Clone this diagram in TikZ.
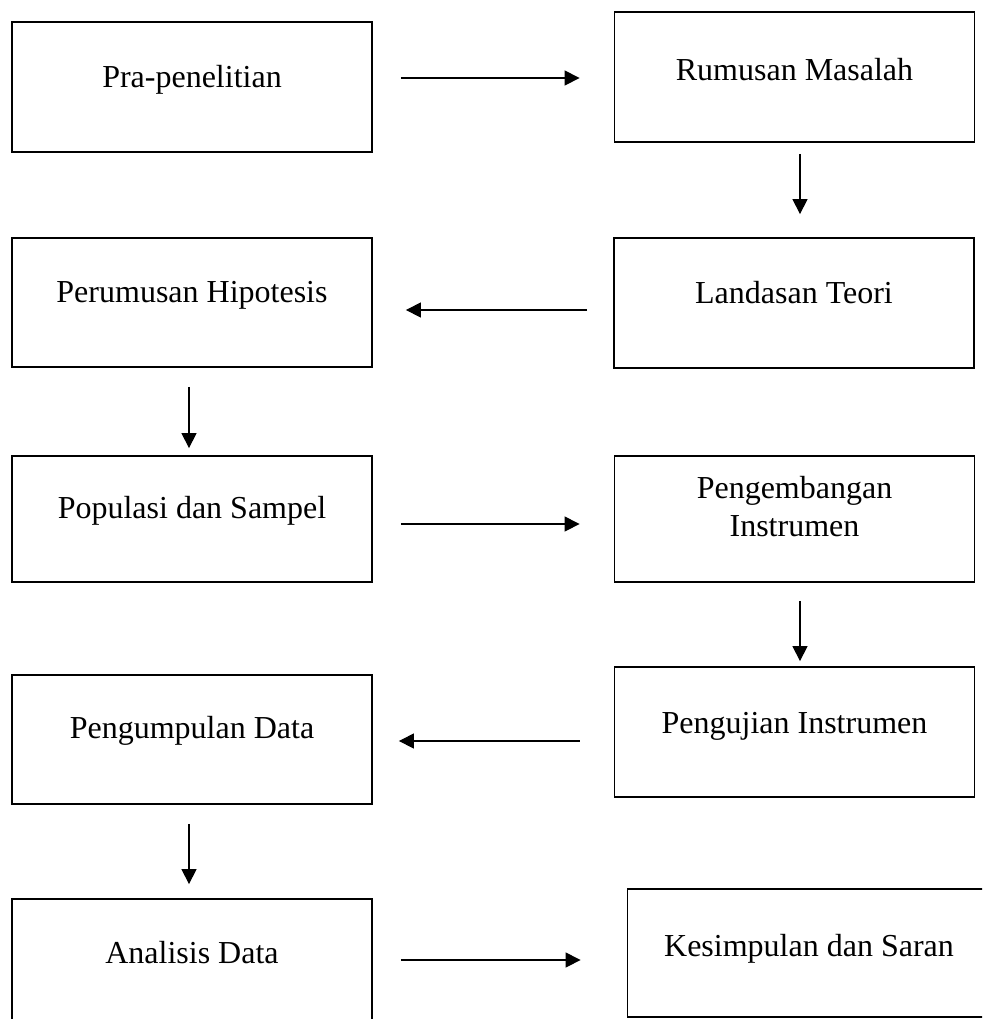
\documentclass[tikz,border=0pt]{standalone}
\usepackage{fontspec}
\setmainfont{Liberation Serif}
\usetikzlibrary{arrows.meta}
\begin{document}
\begin{tikzpicture}[x=0.5pt,y=-0.5pt,
  box/.style={draw,line width=0.9pt,inner sep=0pt,minimum width=180pt},
  lbl/.style={font=\fontsize{16pt}{19pt}\selectfont,inner sep=0pt,align=center},
  arr/.style={line width=0.6pt,-{Triangle[length=7.5pt,width=7.5pt]}}]
\useasboundingbox (0,0) rectangle (982,1019);
\clip (0,0) rectangle (982,1019);
% boxes
\node[box,minimum height=65pt] (b1) at (192,87) {};
\node[box,minimum height=65pt] (b2) at (794.5,77) {};
\node[box,minimum height=65pt] (b3) at (794,303) {};
\node[box,minimum height=64.5pt] (b4) at (192,302.5) {};
\node[box,minimum height=63pt] (b5) at (192,519) {};
\node[box,minimum height=63pt] (b6) at (794.5,519) {};
\node[box,minimum height=65pt] (b7) at (794.5,732) {};
\node[box,minimum height=64.5pt] (b8) at (192,739.5) {};
\node[box,minimum height=65pt] (b9) at (192,964) {};
\node[box,minimum height=64pt] (b10) at (807.5,953) {};
% texts
\node[lbl,anchor=base] (t1) at (192,87) {Pra-penelitian};
\node[lbl,anchor=base] (t2) at (794.5,80) {Rumusan Masalah};
\node[lbl,anchor=base] (t3) at (794,303) {Landasan Teori};
\node[lbl,anchor=base] (t4) at (192,302) {Perumusan Hipotesis};
\node[lbl,anchor=base] (t5) at (192,518) {Populasi dan Sampel};
\node[lbl,anchor=center] (t6) at (794.5,507) {Pengembangan\\Instrumen};
\node[lbl,anchor=base] (t7) at (794.5,733) {Pengujian Instrumen};
\node[lbl,anchor=base] (t8) at (192,738) {Pengumpulan Data};
\node[lbl,anchor=base] (t9) at (192,963) {Analisis Data};
\node[lbl,anchor=base] (t10) at (809,956) {Kesimpulan dan Saran};
% connectors
\draw[arr,shorten <=14pt,shorten >=17pt] (b1.east |- 0,78) -- (b2.west |- 0,78);
\draw[arr,shorten <=5.5pt,shorten >=11.5pt] (800,0 |- b2.south) -- (800,0 |- b3.north);
\draw[arr,shorten <=13pt,shorten >=16.5pt] (b3.west |- 0,310) -- (b4.east |- 0,310);
\draw[arr,shorten <=9.5pt,shorten >=3.5pt] (189,0 |- b4.south) -- (189,0 |- b5.north);
\draw[arr,shorten <=14pt,shorten >=17pt] (b5.east |- 0,524) -- (b6.west |- 0,524);
\draw[arr,shorten <=9pt,shorten >=2.5pt] (800,0 |- b6.south) -- (800,0 |- b7.north);
\draw[arr,shorten <=17pt,shorten >=13pt] (b7.west |- 0,741) -- (b8.east |- 0,741);
\draw[arr,shorten <=9.5pt,shorten >=7pt] (189,0 |- b8.south) -- (189,0 |- b9.north);
\draw[arr,shorten <=14pt,shorten >=23pt] (b9.east |- 0,960) -- (b10.west |- 0,960);
\end{tikzpicture}
\end{document}
